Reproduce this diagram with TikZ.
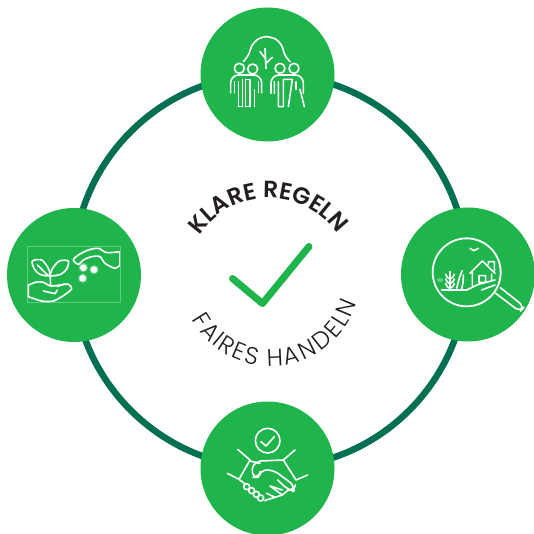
\documentclass[tikz,border=0pt]{standalone}
\usepackage{fontspec}
\usetikzlibrary{decorations.text}
\setmainfont{Poppins}
\newfontfamily\klarefont{Poppins SemiBold}
\newfontfamily\fairesfont{Poppins Light}
\definecolor{leaf}{HTML}{1FB54C}
\definecolor{ringgreen}{HTML}{006F52}
\definecolor{inkdark}{HTML}{231F20}
\tikzset{
  badge/.style={circle,fill=leaf,draw=none,minimum size=134pt,inner sep=0pt},
  icon/.style={draw=white,line width=1.6pt,line cap=round,line join=round},
  zoomed/.style={x=0.33333pt,y=-0.33333pt},
}
\begin{document}
\begin{tikzpicture}[x=1pt,y=-1pt]
\useasboundingbox (0,0) rectangle (533,534);
\fill[white] (0,0) rectangle (533,534);
\node[circle,draw=ringgreen,line width=6.5pt,minimum size=394pt,inner sep=0pt] (ring) at (270,271) {};
\node[badge] (top) at (267.5,74.5) {};
\node[badge] (left) at (74,275) {};
\node[badge] (right) at (468,274.5) {};
\node[badge] (bottom) at (267.5,468.5) {};

% centre tick
\coordinate (t1) at (232.5,278.5);
\coordinate (t2) at (262.5,303.5);
\coordinate (t3) at (309,246.5);
\draw[leaf,line width=7pt,line cap=round,line join=round] (t1) -- (t2) -- (t3);

% curved texts: centre (269,281.5) r 83.5 and centre (271,276) r 90
\path[decorate,decoration={text along path,text align=center,
   text={|\fontsize{23.5}{23.5}\klarefont\color{inkdark}|KLARE REGELN}}]
   ([shift={(144.4:83.5pt)}]269pt,-281.5pt) arc[start angle=144.4,end angle=37,radius=83.5pt];
\path[decorate,decoration={text effects along path,text={FAIRES HANDELN},
   text effects/.cd,text along path,fit text to path,
   character widths={font=\fontsize{24}{24}\fairesfont},
   characters={font=\fontsize{24}{24}\fairesfont,text=inkdark}}]
   ([shift={(208.6:90pt)}]271pt,-276pt) arc[start angle=208.6,end angle=342.6,radius=90pt];

% top icon
\begin{scope}[zoomed,shift={(195pt,0pt)}]
  \draw[icon] plot[smooth] coordinates {(145,185) (160,165) (172,135) (190,117) (215,110) (243,118) (260,137) (270,165) (285,185)};
  \draw[icon] (210,145) -- (213,205) (195,155) -- (211,175) (232,172) -- (213,190);
  \foreach \cx/\cy in {133/205,173/207,255/205,297/205}
    \draw[icon] (\cx,\cy) circle[radius=15];
  \draw[icon,rounded corners=8pt] (107,278) -- (107,225) -- (200,225) -- (200,278);
  \draw[icon] (118,245) -- (118,278) (130,245) -- (130,320) (143,238) -- (143,320)
     (152,320) -- (152,238) -- (165,238) -- (165,320) (178,270) -- (178,320) (190,245) -- (190,278)
     (130,320) -- (143,320) (152,320) -- (165,320);
  \draw[icon,rounded corners=8pt] (228,280) -- (228,225) -- (325,225) -- (325,280);
  \draw[icon] (238,245) -- (238,280) (250,245) -- (250,320) (265,238) -- (265,320)
     (250,320) -- (265,320) (265,238) -- (292,238) -- (280,320) (303,245) -- (303,268)
     (315,268) -- (328,320);
\end{scope}

% left icon
\begin{scope}[zoomed,shift={(0pt,-205pt)}]
  \draw[white,opacity=.3,line width=.5pt] (82,124) rectangle (360,292);
  \draw[icon] plot[smooth cycle] coordinates {(97,168) (125,165) (145,190) (148,212) (120,208) (103,192)};
  \draw[icon] plot[smooth cycle] coordinates {(205,168) (178,168) (158,190) (152,212) (182,208) (200,192)};
  \draw[icon] (150,205) -- (152,242) (112,180) -- (145,212) (130,258) -- (165,266) -- (172,255);
  \draw[icon] plot[smooth] coordinates {(85,240) (110,231) (130,232) (152,243) (180,240) (205,238) (215,252) (190,272) (160,288) (125,288) (85,275)};
  \draw[icon] (85,240) -- (85,275) (172,245) -- (195,236);
  \draw[icon] plot[smooth] coordinates {(358,140) (320,143) (295,130) (265,135) (235,150) (220,165) (235,178) (250,165) (275,155) (300,155) (315,175) (345,190) (358,182)};
  \draw[icon] (358,140) -- (358,182);
  \fill[white,opacity=.35] (250,188) circle[radius=14] (282,194) circle[radius=14] (248,220) circle[radius=14];
  \fill[white] (250,188) circle[radius=10] (282,194) circle[radius=10] (248,220) circle[radius=10];
\end{scope}

% right icon
\begin{scope}[zoomed,shift={(395pt,-205pt)}]
  \draw[icon,line width=1.8pt] (215,202) circle[radius=102];
  \draw[icon,rounded corners=6pt] (316,248) -- (388,305) -- (375,320) -- (302,265);
  \draw[icon] (225,205) -- (262,168) -- (300,205) (280,178) -- (280,170) -- (298,170) -- (298,197)
     (232,200) -- (232,243) (290,207) -- (290,228) (252,232) -- (252,212) -- (272,212) -- (272,232) -- (252,232);
  \draw[icon] (140,255) -- (215,255) -- (250,238) -- (300,225) (260,255) -- (300,240);
  \draw[icon] (165,200) -- (165,255);
  \foreach \yy in {208,222,236}
    \draw[icon] (152,\yy) .. controls (153,\yy+8) and (160,\yy+12) .. (165,\yy+14) .. controls (170,\yy+12) and (177,\yy+8) .. (178,\yy);
  \draw[icon] (185,250) .. controls (190,230) and (195,210) .. (202,197) (200,252) .. controls (205,235) and (205,220) .. (205,210);
  \draw[icon] (225,130) -- (237,137) -- (250,130);
  \fill[white,opacity=.3] (135,225) ellipse[x radius=10,y radius=6];
\end{scope}

% bottom icon
\begin{scope}[zoomed,shift={(195pt,-400pt)}]
  \draw[icon] (218,122) circle[radius=37];
  \draw[icon] (198,125) -- (213,138) -- (238,110);
  \draw[icon] (128,148) -- (165,180) -- (132,238) -- (97,220);
  \draw[icon] (300,150) -- (265,180) -- (303,240) -- (338,225);
  \draw[icon] (165,183) -- (195,190) (195,183) -- (265,180);
  \draw[icon,rounded corners=6pt] (195,185) -- (172,190) -- (172,232) -- (192,232) -- (197,210) -- (235,210) -- (300,258) -- (295,272) -- (280,270) -- (248,240);
  \draw[icon] (262,270) -- (225,258) (280,270) -- (262,285) -- (225,258);
  \draw[icon] (262,285) -- (240,292) -- (215,280) (240,292) -- (208,302);
  \draw[icon] (132,238) -- (148,250);
  \draw[icon] (155,260) circle[radius=9] (170,272) circle[radius=9] (184,283) circle[radius=9] (197,294) circle[radius=9];
\end{scope}
\end{tikzpicture}
\end{document}
